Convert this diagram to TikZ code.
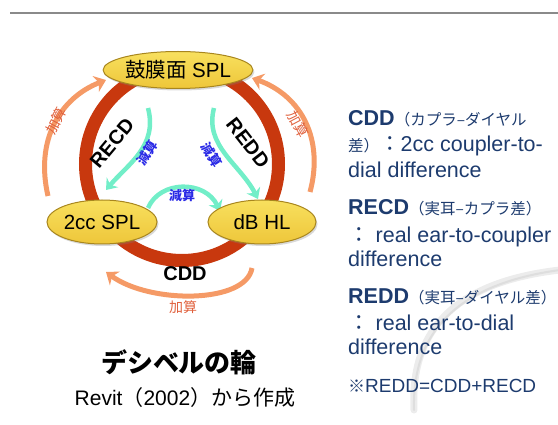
\documentclass[tikz,border=0pt]{standalone}
\usepackage{fontspec}
\setmainfont{Liberation Sans}
\newfontfamily\jp{Noto Sans CJK JP}
\usetikzlibrary{shapes.geometric,arrows.meta,shadows}
\definecolor{ringc}{HTML}{C8380E}
\definecolor{elltop}{HTML}{F8E05E}
\definecolor{ellbot}{HTML}{EEC63A}
\definecolor{elldraw}{HTML}{A8861E}
\definecolor{orc}{HTML}{F59A66}
\definecolor{kasanc}{HTML}{E0603C}
\definecolor{cyc}{HTML}{72EEC8}
\definecolor{gensanc}{HTML}{2A2AE6}
\definecolor{navy}{HTML}{1D3B6E}
\definecolor{linec}{HTML}{8A8A8A}
\begin{document}
\begin{tikzpicture}[x=1pt,y=-1pt,
  ell/.style={ellipse, draw=elldraw, line width=1pt, top color=elltop, bottom color=ellbot, inner sep=0pt,
    drop shadow={opacity=0.3,shadow xshift=1.5pt,shadow yshift=-2pt},
    font=\fontsize{20.5}{20.5}\selectfont},
  orarrow/.style={draw=orc, line width=5pt, -{Stealth[length=11pt,width=17pt]}},
  cyarrow/.style={draw=cyc, line width=4.5pt, -{Stealth[length=10pt,width=15pt]}},
  kasan/.style={text=kasanc, font=\jp\fontsize{14}{14}\selectfont, inner sep=0pt},
  gensan/.style={text=gensanc, font=\jp\bfseries\fontsize{13}{13}\selectfont, inner sep=0pt},
  ringlbl/.style={font=\bfseries\fontsize{20}{20}\selectfont, inner sep=0pt},
  rtext/.style={anchor=base west, text=navy, inner sep=0pt, font=\fontsize{21.5}{21.5}\selectfont},
  swoosh/.style={line cap=round},
]
\useasboundingbox (0,0) rectangle (558,425);
% top rule
\coordinate (r1) at (10,13);
\coordinate (r2) at (558,13);
\draw[linec, line width=1.5pt] (r1) -- (r2);

% background swoosh
\coordinate (s1) at (414,410);
\coordinate (s2) at (560,270);
\draw[swoosh, gray!15, line width=7pt] (s1) .. controls (410,330) and (455,282) .. (s2);
\draw[swoosh, gray!26, line width=2pt] (s1) .. controls (412,332) and (457,284) .. (s2);

% ring
\node[circle, draw=ringc, line width=13pt, minimum size=193pt, inner sep=0pt] (ring) at (182,164) {};

% orange arrows (outside)
\coordinate (oL1) at (48,196);
\coordinate (oL2) at (106,80);
\draw[orarrow] (oL1) .. controls (35,140) and (60,98) .. (oL2);
\coordinate (oR1) at (310,192);
\coordinate (oR2) at (252,78);
\draw[orarrow] (oR1) .. controls (324,140) and (302,96) .. (oR2);
\coordinate (oB1) at (252,268);
\coordinate (oB2) at (106,272);
\draw[orarrow] (oB1) .. controls (246,304) and (150,304) .. (oB2);

\node[kasan, rotate=62] (kL) at (56,121) {加算};
\node[kasan, rotate=-62] (kR) at (298,124) {加算};
\node[kasan] (kB) at (183,307) {加算};

% cyan arrows (inside)
\coordinate (cL1) at (148,108);
\coordinate (cL2) at (106,190);
\draw[cyarrow] (cL1) .. controls (158,146) and (128,164) .. (cL2);
\coordinate (cR1) at (214,108);
\coordinate (cR2) at (258,199);
\draw[cyarrow] (cR1) .. controls (204,146) and (240,164) .. (cR2);
\coordinate (cB1) at (148,208);
\coordinate (cB2) at (220,211);
\draw[cyarrow] (cB1) .. controls (160,180) and (205,180) .. (cB2);

\node[gensan, rotate=58] (gL) at (147,153) {減算};
\node[gensan, rotate=-58] (gR) at (212,155) {減算};
\node[gensan] (gB) at (182,195) {減算};

% ellipses
\node[ell, minimum width=127pt, minimum height=37pt] (tm) at (178,70) {{\jp 鼓膜面} SPL};
\node[ell, minimum width=110pt, minimum height=44pt] (cc) at (102,222) {2cc SPL};
\node[ell, minimum width=108pt, minimum height=44pt] (hl) at (262,222) {dB HL};

% ring labels
\node[ringlbl, rotate=50] (recd) at (112,143) {RECD};
\node[ringlbl, rotate=-52] (redd) at (248,143) {REDD};
\node[ringlbl] (cdd) at (185,274) {CDD};

% title
\node[inner sep=0pt, font=\jp\bfseries\fontsize{26}{26}\selectfont] (title) at (179,362) {デシベルの輪};
\node[inner sep=0pt, font=\fontsize{21}{21}\selectfont] (sub) at (185,398) {Revit{\jp （}2002{\jp ）から作成}};

% right text block
\newcommand{\js}{\jp\fontsize{15.5}{15.5}\selectfont}
\node[rtext] (t1) at (348,125.5) {\textbf{CDD}{\js （カプラ–ダイヤル}};
\node[rtext] (t2) at (348,152) {{\js 差）}{\jp ：}2cc coupler-to-};
\node[rtext] (t3) at (348,177.5) {dial difference};
\node[rtext] (t4) at (348,214.5) {\textbf{RECD}{\js （実耳–カプラ差）}};
\node[rtext] (t5) at (348,242.5) {{\jp ：} real ear-to-coupler};
\node[rtext] (t6) at (348,266.5) {difference};
\node[rtext] (t7) at (348,303.5) {\textbf{REDD}{\js （実耳–ダイヤル差）}};
\node[rtext] (t8) at (348,330.5) {{\jp ：} real ear-to-dial};
\node[rtext] (t9) at (348,354.5) {difference};
\node[rtext, font=\fontsize{19}{19}\selectfont] (t10) at (348,393) {{\jp\fontsize{17}{17}\selectfont ※}REDD=CDD+RECD};
\end{tikzpicture}
\end{document}
